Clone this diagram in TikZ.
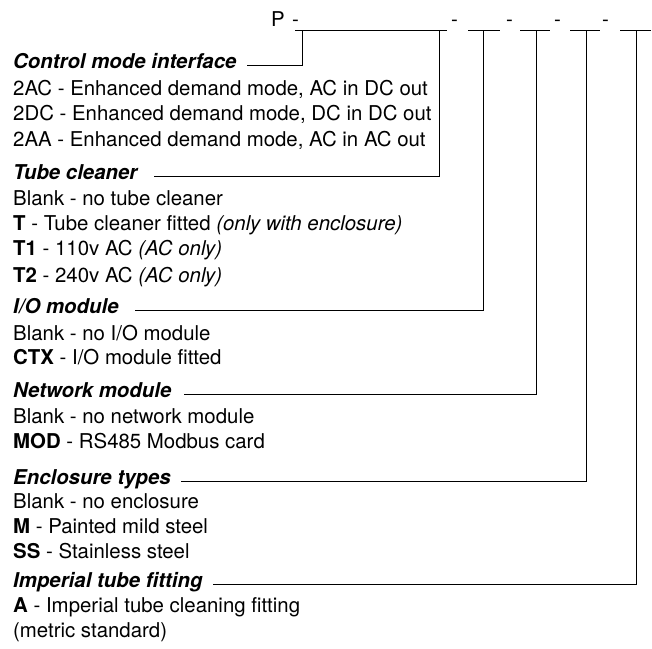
\documentclass[tikz,border=0pt]{standalone}
\usepackage{fontspec}
\setmainfont{TeX Gyre Heros}

\begin{document}
\begin{tikzpicture}[x=1pt, y=-1pt,
  every node/.style={inner sep=0pt, anchor=base west, font=\fontsize{20.4}{24}\selectfont},
  head/.style={font=\fontsize{20.4}{24}\selectfont\bfseries\itshape},
  link/.style={line width=0.9pt}]
  \useasboundingbox (0,0) rectangle (652,648);

  % Top: order code
  \node (code) at (271, 26) {P};
  \node (dash1) at (292, 26) {-};
  \node (dash2) at (451, 26) {-};
  \node (dash3) at (506, 26) {-};
  \node (dash4) at (554, 26) {-};
  \node (dash5) at (602, 26) {-};

  \coordinate (t1) at (302, 30);
  \coordinate (t2) at (439, 30);
  \coordinate (t3) at (483, 30);
  \coordinate (t4) at (536, 30);
  \coordinate (t5) at (586, 30);
  \coordinate (t6) at (636, 30);

  \draw[link] (295, 30) -- (447, 30);
  \draw[link] (468, 30) -- (500, 30);
  \draw[link] (520, 30) -- (550, 30);
  \draw[link] (570, 30) -- (600, 30);
  \draw[link] (620, 30) -- (651, 30);

  % Control mode interface
  \node[head] (cmi) at (13, 68) {Control mode interface};
  \node (cmi-a) at (13, 95) {2AC - Enhanced demand mode, AC in DC out};
  \node (cmi-b) at (13, 120) {2DC - Enhanced demand mode, DC in DC out};
  \node (cmi-c) at (13, 146) {2AA - Enhanced demand mode, AC in AC out};

  % Tube cleaner
  \node[head] (tc) at (13, 179) {Tube cleaner};
  \node (tc-a) at (13, 205) {Blank - no tube cleaner};
  \node (tc-b) at (13, 230) {\textbf{T} - Tube cleaner fitted \textit{(only with enclosure)}};
  \node (tc-c) at (13, 255) {\textbf{T1} - 110v AC \textit{(AC only)}};
  \node (tc-d) at (13, 282) {\textbf{T2} - 240v AC \textit{(AC only)}};

  % I/O module
  \node[head] (io) at (13, 313) {I/O module};
  \node (io-a) at (13, 340) {Blank - no I/O module};
  \node (io-b) at (13, 364) {\textbf{CTX} - I/O module fitted};

  % Network module
  \node[head] (net) at (13, 397) {Network module};
  \node (net-a) at (13, 423) {Blank - no network module};
  \node (net-b) at (13, 448) {\textbf{MOD} - RS485 Modbus card};

  % Enclosure types
  \node[head] (enc) at (13, 484) {Enclosure types};
  \node (enc-a) at (13, 508) {Blank - no enclosure};
  \node (enc-b) at (13, 533) {\textbf{M} - Painted mild steel};
  \node (enc-c) at (13, 558) {\textbf{SS} - Stainless steel};

  % Imperial tube fitting
  \node[head] (imp) at (13, 587) {Imperial tube fitting};
  \node (imp-a) at (13, 612) {\textbf{A} - Imperial tube cleaning fitting};
  \node (imp-b) at (13, 637) {(metric standard)};

  % Leader lines
  \draw[link] (t1) |- ([xshift=10pt, yshift=2.5pt]cmi.base east);
  \draw[link] (t2) |- ([xshift=16pt, yshift=2.5pt]tc.base east);
  \draw[link] (t3) |- ([xshift=16pt, yshift=2.5pt]io.base east);
  \draw[link] (t4) |- ([xshift=12pt, yshift=2.5pt]net.base east);
  \draw[link] (t5) |- ([xshift=10pt, yshift=2.5pt]enc.base east);
  \draw[link] (t6) |- ([xshift=10pt, yshift=2.5pt]imp.base east);
\end{tikzpicture}
\end{document}
